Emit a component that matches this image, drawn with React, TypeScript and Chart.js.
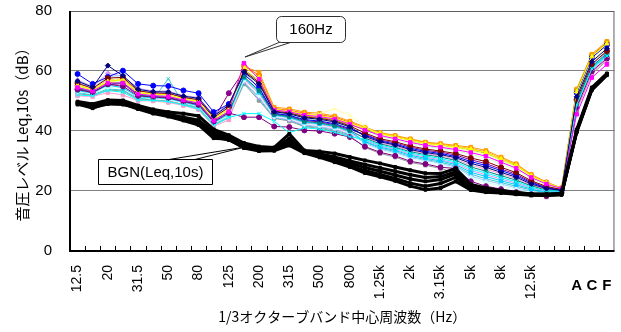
import React, { useEffect, useRef } from "react";
import { Chart, registerables } from "chart.js";
Chart.register(...registerables);

const categories = ["12.5","16","20","25","31.5","40","50","63","80","100","125","160","200","250","315","400","500","630","800","1k","1.25k","1.6k","2k","2.5k","3.15k","4k","5k","6.3k","8k","10k","12.5k","16k","20k","A","C","F"];
const shownTickLabels = ["12.5","20","31.5","50","80","125","200","315","500","800","1.25k","2k","3.15k","5k","8k","12.5k"];
const overallLabels = ["A","C","F"];

const s01 = [56.6,54.6,61.8,58.4,53.9,53.1,53.0,51.6,50.9,45.0,48.6,59.7,55.7,46.4,45.7,44.4,43.9,43.0,41.4,38.2,36.4,35.3,33.8,32.8,32.1,31.1,29.2,27.9,26.2,24.6,22.3,20.8,20.2,51.4,63.1,67.5];
const s02 = [54.5,53.3,56.0,56.0,52.3,51.8,51.5,50.3,49.3,43.5,46.5,62.6,57.3,47.0,46.4,45.3,44.8,44.0,42.3,40.3,38.5,37.4,36.2,35.2,34.6,33.8,32.8,31.6,29.6,27.6,24.5,22.3,20.8,45.6,57.8,62.2];
const s03 = [55.2,53.7,56.5,57.1,52.8,52.2,52.0,50.7,49.8,44.0,47.2,61.3,57.9,47.2,46.7,45.6,45.1,44.3,42.6,41.0,39.2,38.1,37.0,35.9,35.4,34.7,34.0,32.9,30.7,28.6,25.1,22.7,20.9,53.1,64.8,69.1];
const s04 = [52.0,51.7,53.5,52.9,50.3,50.2,49.8,48.7,47.3,41.8,44.5,45.8,45.8,43.2,39.4,41.1,40.6,39.6,38.1,37.2,35.3,34.2,32.7,31.7,30.8,29.7,27.4,26.0,24.5,23.1,21.3,20.0,20.0,48.7,60.7,65.0];
const s05 = [53.8,52.8,55.6,54.9,51.7,51.3,51.0,49.8,48.7,43.0,46.0,44.6,44.6,41.5,41.3,40.2,40.0,39.1,38.0,34.8,32.9,31.7,29.9,29.0,27.9,27.5,23.2,21.6,20.6,19.6,18.9,18.3,19.4,47.8,59.9,64.2];
const s06 = [55.9,54.2,57.6,57.9,53.4,52.7,52.5,51.2,50.4,44.5,47.9,60.1,56.2,46.6,46.0,44.7,44.2,43.4,41.7,39.3,37.4,36.4,35.0,34.0,33.3,32.5,31.0,29.8,27.9,26.1,23.4,21.5,20.5,50.5,62.3,66.7];
const s07 = [54.2,53.0,55.6,56.1,52.0,51.5,51.3,50.0,49.0,43.3,46.2,58.1,53.5,45.5,44.8,43.2,42.7,41.8,40.2,37.6,35.7,34.5,33.1,32.1,31.3,30.2,28.0,26.6,25.1,23.6,21.7,20.3,20.1,49.6,61.5,65.9];
const s08 = [59.0,55.7,58.0,60.1,55.7,55.1,55.0,53.5,52.6,46.3,49.0,58.9,54.5,45.9,45.2,43.8,43.3,42.4,40.8,38.6,36.7,35.6,34.2,33.2,32.5,31.5,29.8,28.5,26.8,25.1,22.7,21.0,20.3,52.7,64.4,68.7];
const s09 = [53.5,52.6,55.3,54.4,51.4,51.1,50.8,49.6,48.4,42.8,45.5,57.7,52.9,45.3,44.5,42.9,42.4,41.5,39.9,36.5,34.6,33.5,31.9,30.9,30.0,28.8,26.2,24.8,23.4,22.1,20.6,19.5,19.8,49.2,61.1,65.5];
const s10 = [53.1,52.4,54.4,54.9,51.2,50.9,50.5,49.4,48.2,42.5,45.1,56.9,51.8,44.8,44.1,42.3,41.8,40.9,39.3,35.5,33.6,32.4,30.7,29.8,28.8,27.4,24.4,22.9,21.7,20.6,19.6,18.8,19.6,50.1,61.9,66.3];
const s11 = [54.9,53.5,56.9,56.0,52.5,52.0,51.8,50.5,49.5,43.8,46.9,59.3,55.1,46.2,45.5,44.1,43.6,42.7,41.1,39.9,38.1,37.1,35.8,34.8,34.2,33.4,32.2,31.0,29.1,27.1,24.1,22.0,20.7,50.9,62.7,67.1];
const s12 = [55.6,53.9,57.5,56.8,53.1,52.4,52.3,50.9,50.1,44.3,47.6,59.9,56.0,46.4,46.3,45.4,45.7,47.4,45.2,41.3,38.8,37.8,36.6,35.5,35.0,34.3,33.4,32.3,30.2,28.1,24.8,22.5,20.8,51.8,63.6,67.9];
const s13 = [56.3,54.4,58.0,58.6,53.6,52.9,52.8,51.4,50.6,44.8,48.3,57.9,53.2,45.3,44.6,43.0,42.5,41.6,40.0,35.9,33.9,32.8,31.1,30.2,29.2,27.9,25.0,23.5,22.3,21.1,19.9,19.0,19.7,48.3,60.3,64.7];
const s14 = [51.7,51.5,52.8,52.0,50.1,50.0,49.5,48.5,47.1,41.5,43.7,57.3,52.4,45.1,44.3,42.6,42.1,41.2,39.6,37.9,36.0,34.9,33.5,32.5,31.7,30.6,28.6,27.3,25.7,24.1,22.0,20.5,20.2,47.4,59.5,63.8];
const s15 = [57.0,54.8,59.2,58.3,54.2,53.3,53.3,51.8,51.2,45.3,49.0,56.5,51.3,44.6,43.8,42.0,41.5,40.6,39.0,36.9,35.0,33.8,32.3,31.3,30.4,29.2,26.8,25.4,24.0,22.6,21.0,19.8,19.9,49.9,61.7,66.0];
const s16 = [52.8,52.1,54.0,53.6,50.9,50.6,57.4,49.1,47.9,42.3,44.8,56.1,50.7,44.4,43.6,41.7,41.2,40.3,38.7,36.2,34.3,33.1,31.5,30.5,29.6,28.3,25.6,24.1,22.8,21.6,20.3,19.3,19.7,48.9,60.9,65.2];
const s17 = [54.7,53.1,56.3,56.2,52.5,51.6,51.7,50.1,49.6,43.7,46.7,60.5,56.8,46.8,46.2,45.0,44.5,43.7,42.0,40.6,38.9,37.9,36.7,35.6,35.1,34.4,33.6,32.5,30.3,28.3,24.9,22.6,20.8,53.4,64.9,69.3];
const s18 = [55.4,53.8,57.0,57.4,53.0,52.5,52.1,51.0,49.9,44.1,47.8,61.5,59.6,47.9,47.4,46.3,45.9,45.0,43.3,41.3,39.5,38.5,37.4,36.3,35.8,35.2,34.6,33.5,31.3,29.1,25.5,23.0,21.0,54.0,65.6,69.9];
const s19 = [55.0,53.6,56.6,57.0,52.7,52.1,51.9,50.6,49.7,43.9,47.0,61.7,58.6,47.5,46.9,45.9,45.4,44.6,42.9,40.9,39.1,38.2,37.1,36.0,35.5,34.8,34.1,33.0,30.8,28.7,25.2,22.8,20.9,53.6,65.2,69.5];
const s20 = [52.4,51.9,53.6,53.4,50.6,50.4,50.0,48.9,47.6,42.0,44.4,55.7,50.2,44.2,43.3,41.4,40.9,39.9,38.4,34.5,32.5,31.3,29.5,28.6,27.5,26.0,22.6,21.0,20.0,19.1,18.5,18.0,19.3,47.0,59.0,63.4];
const s21 = [54.0,52.9,55.4,55.8,51.9,51.4,51.1,49.9,48.8,44.0,52.6,60.0,54.0,45.7,45.0,43.5,43.0,42.1,40.5,38.9,37.0,36.0,34.6,33.6,32.9,32.0,30.4,29.1,27.3,25.6,23.0,21.2,20.4,50.2,62.0,66.4];

const bgn1 = [49.8,49.0,50.3,50.2,48.5,47.2,46.3,45.8,45.0,40.5,38.6,36.0,34.8,34.5,39.0,33.5,33.2,32.5,31.3,30.2,29.2,28.0,26.9,25.9,25.8,27.5,22.2,21.0,20.2,19.6,19.0,19.0,19.2,40.5,54.5,59.2];
const bgn2 = [49.3,48.2,49.8,49.6,48.0,46.6,45.6,44.6,43.6,39.5,38.0,35.3,34.2,34.0,37.5,33.0,32.4,31.3,30.0,28.8,27.7,26.6,25.4,24.5,24.8,26.4,21.5,20.5,19.9,19.4,19.0,18.8,19.0,40.0,54.0,59.0];
const bgn3 = [49.0,47.6,49.5,49.2,47.5,46.2,45.0,43.9,42.8,38.8,37.5,35.0,33.8,33.6,36.6,32.7,31.9,30.6,29.3,27.8,26.6,25.3,24.0,23.2,23.8,25.6,21.0,20.2,19.7,19.2,18.9,18.7,18.9,39.8,53.8,58.8];
const bgn4 = [48.8,48.5,49.2,48.8,47.8,46.0,45.3,44.2,42.3,38.0,37.0,34.6,33.5,33.8,35.8,32.9,31.6,30.0,28.5,26.8,25.5,24.2,22.6,21.6,22.5,24.5,20.6,19.9,19.5,19.0,18.7,18.6,18.8,39.5,53.6,58.6];
const bgn5 = [49.5,47.8,49.0,49.0,47.3,45.8,44.8,43.5,42.0,37.6,37.2,34.3,33.3,33.4,35.2,32.6,31.2,29.6,28.0,26.0,24.7,23.4,21.6,20.4,21.0,23.2,20.3,19.6,19.3,18.9,18.6,18.5,18.7,39.8,53.9,58.9];

const measured = [s01,s02,s03,s04,s05,s06,s07,s08,s09,s10,s11,s12,s13,s14,s15,s16,s17,s18,s19,s20,s21];
const measuredColors = ["#000080","#FF00FF","#FFFF00","#00FFFF","#800080","#800000","#008080","#0000FF","#00CCFF","#CCFFFF","#CCFFCC","#FFFF99","#99CCFF","#FF99CC","#CC99FF","#33CCCC","#99CC00","#FF9900","#FF6600","#969696","#8B008B"];
const measuredMarkers = ["rectRot","rect","triangle","crossRot","circle","circle","rect","circle","rect","rectRot","triangle","crossRot","circle","rect","rectRot","crossRot","triangle","rect","circle","rect","circle"];
const background = [bgn1,bgn2,bgn3,bgn4,bgn5];

const LAT = '"Liberation Sans", Arial, sans-serif';
const CJK = '"Noto Sans CJK JP", "Liberation Sans", sans-serif';

const decorPlugin = {
  id: "decor",
  afterDraw(chart: any) {
    const { ctx, chartArea: a, scales } = chart;
    const xs = scales.x;
    ctx.save();
    ctx.strokeStyle = "#606060";
    ctx.lineWidth = 1;
    ctx.beginPath();
    ctx.moveTo(a.left, a.top + 0.5);
    ctx.lineTo(a.right - 0.5, a.top + 0.5);
    ctx.lineTo(a.right - 0.5, a.bottom);
    ctx.stroke();
    ctx.strokeStyle = "#000";
    ctx.lineWidth = 2;
    ctx.beginPath();
    ctx.moveTo(a.left, a.top);
    ctx.lineTo(a.left, a.bottom);
    ctx.lineTo(a.right, a.bottom);
    ctx.stroke();
    ctx.lineWidth = 1;
    ctx.beginPath();
    const n = categories.length;
    const w = (a.right - a.left) / n;
    for (let i = 1; i < n; i++) {
      const px = Math.round(a.left + i * w) + 0.5;
      ctx.moveTo(px, a.bottom);
      ctx.lineTo(px, a.bottom - 5);
    }
    ctx.stroke();
    ctx.fillStyle = "#000";
    ctx.textBaseline = "middle";
    ctx.font = "bold 15px " + LAT;
    ctx.textAlign = "center";
    overallLabels.forEach((l) => {
      ctx.fillText(l, xs.getPixelForValue(categories.indexOf(l)), 286);
    });
    ctx.lineWidth = 1;
    ctx.strokeStyle = "#303030";
    ctx.fillStyle = "#fff";
    ctx.beginPath();
    ctx.moveTo(280, 42);
    ctx.lineTo(245, 57);
    ctx.lineTo(292, 42);
    ctx.closePath();
    ctx.fill();
    ctx.stroke();
    ctx.beginPath();
    ctx.roundRect(276.5, 16.5, 69, 26, 5);
    ctx.fill();
    ctx.stroke();
    ctx.fillStyle = "#000";
    ctx.font = "15px " + LAT;
    ctx.fillText("160Hz", 311, 30);
    ctx.strokeStyle = "#000";
    ctx.fillStyle = "#fff";
    ctx.beginPath();
    ctx.moveTo(166, 160);
    ctx.lineTo(245, 147);
    ctx.lineTo(193, 160);
    ctx.closePath();
    ctx.fill();
    ctx.stroke();
    ctx.beginPath();
    ctx.rect(98.5, 159.5, 114, 25);
    ctx.fill();
    ctx.stroke();
    ctx.fillStyle = "#000";
    ctx.fillText("BGN(Leq,10s)", 155.5, 172.5);
    ctx.restore();
  },
};

export default function App() {
  const ref = useRef<HTMLCanvasElement>(null);
  useEffect(() => {
    document.body.style.margin = "0";
    const datasets: any[] = [];
    background.forEach((d, i) => {
      datasets.push({
        label: "BGN" + (i + 1),
        data: d,
        borderColor: "#000",
        backgroundColor: "#000",
        borderWidth: 3,
        pointStyle: "rect",
        pointRadius: 2,
        pointBorderWidth: 1,
        order: 0,
      });
    });
    measured.forEach((d, i) => {
      datasets.push({
        label: "No." + (i + 1),
        data: d,
        borderColor: measuredColors[i],
        backgroundColor: measuredColors[i],
        pointBackgroundColor: measuredColors[i],
        pointBorderColor: measuredColors[i],
        borderWidth: 1,
        pointStyle: measuredMarkers[i],
        pointRadius: 2.5,
        pointBorderWidth: 1,
        order: 1,
      });
    });
    const chart = new Chart(ref.current as HTMLCanvasElement, {
      type: "line",
      data: { labels: categories, datasets },
      options: {
        responsive: false,
        animation: false,
        layout: { padding: { left: 0, right: 6, top: 11, bottom: 7 } },
        plugins: { legend: { display: false }, tooltip: { enabled: false } },
        elements: { line: { tension: 0 } },
        scales: {
          x: {
            offset: true,
            grid: { display: false, drawTicks: true, tickLength: 14 },
            border: { display: false },
            ticks: {
              autoSkip: false,
              minRotation: 90,
              maxRotation: 90,
              padding: 0,
              color: "#000",
              font: { family: LAT, size: 14, lineHeight: 1 },
              callback: (_v: any, i: number) => (shownTickLabels.includes(categories[i]) ? categories[i] : ""),
            },
            title: {
              display: true,
              text: "1/3オクターブバンド中心周波数（Hz）",
              color: "#000",
              font: { family: CJK, size: 14 },
              padding: { top: 9, bottom: 0 },
            },
          },
          y: {
            min: 0,
            max: 80,
            grid: { color: "#808080", drawTicks: false },
            border: { display: false },
            ticks: { stepSize: 20, padding: 18, color: "#000", font: { family: LAT, size: 15 } },
            title: {
              display: true,
              text: "音圧レベル Leq,10s（dB）",
              color: "#000",
              font: { family: CJK, size: 15 },
              padding: { top: 13, bottom: 0 },
            },
            afterFit: (s: any) => {
              s.width = 70;
              s.paddingTop = 0;
              s.paddingBottom = 0;
            },
          },
        },
      } as any,
      plugins: [decorPlugin],
    });
    return () => chart.destroy();
  }, []);
  return (
    <div style={{ width: 621, height: 332 }}>
      <canvas ref={ref} width={621} height={332} />
    </div>
  );
}
